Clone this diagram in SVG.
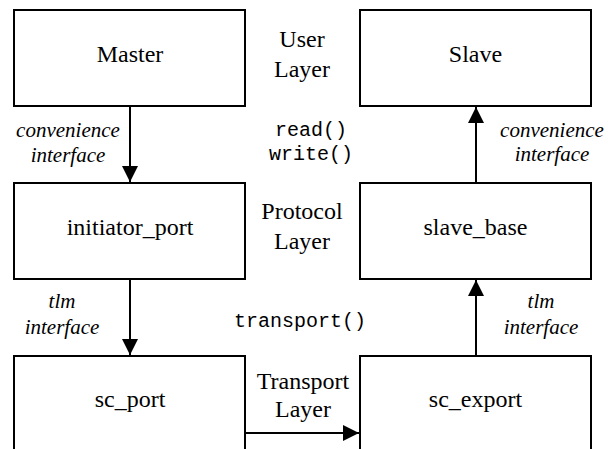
<svg xmlns="http://www.w3.org/2000/svg" width="614" height="449" viewBox="0 0 614 449">
<style>
.box{fill:#fff;stroke:#000;stroke-width:2}
.lbl{font-family:"Liberation Serif","Times New Roman",serif;font-size:24px;fill:#000;text-anchor:middle}
.it{font-family:"Liberation Serif","Times New Roman",serif;font-size:21px;font-style:italic;fill:#000;text-anchor:middle}
.mono{font-family:"Liberation Mono","Courier New",monospace;font-size:20px;fill:#000;text-anchor:middle}
.conn{stroke:#000;stroke-width:2;fill:none}
</style>
<defs>
<marker id="ah" markerWidth="16" markerHeight="16" viewBox="0 0 16 16" refX="16" refY="8" orient="auto" markerUnits="userSpaceOnUse">
<path d="M0,0 L16,8 L0,16 Z" fill="#000"/>
</marker>
</defs>
<g id="master"><rect class="box" x="14" y="10" width="231" height="96"/><text class="lbl" x="130" y="62">Master</text></g>
<g id="slave"><rect class="box" x="360" y="10" width="231" height="96"/><text class="lbl" x="475.5" y="62">Slave</text></g>
<g id="initiator_port"><rect class="box" x="14" y="183" width="231" height="96"/><text class="lbl" x="130" y="235">initiator_port</text></g>
<g id="slave_base"><rect class="box" x="360" y="183" width="231" height="96"/><text class="lbl" x="475.5" y="235">slave_base</text></g>
<g id="sc_port"><rect class="box" x="14" y="356" width="231" height="110"/><text class="lbl" x="130" y="407">sc_port</text></g>
<g id="sc_export"><rect class="box" x="360" y="356" width="231" height="110"/><text class="lbl" x="475.5" y="407">sc_export</text></g>
<g id="layers">
<text class="lbl" x="302" y="47">User</text>
<text class="lbl" x="302" y="77">Layer</text>
<text class="lbl" x="302" y="219">Protocol</text>
<text class="lbl" x="302" y="249">Layer</text>
<text class="lbl" x="303" y="389">Transport</text>
<text class="lbl" x="303" y="417">Layer</text>
<text class="mono" x="311" y="136">read()</text>
<text class="mono" x="311" y="160">write()</text>
<text class="mono" x="300" y="327">transport()</text>
</g>
<g id="connectors">
<line class="conn" x1="130" y1="106" x2="130" y2="182" marker-end="url(#ah)"/>
<line class="conn" x1="130" y1="279" x2="130" y2="355" marker-end="url(#ah)"/>
<line class="conn" x1="476" y1="183" x2="476" y2="107" marker-end="url(#ah)"/>
<line class="conn" x1="476" y1="356" x2="476" y2="280" marker-end="url(#ah)"/>
<line class="conn" x1="245" y1="433" x2="359" y2="433" marker-end="url(#ah)"/>
<text class="it" x="68" y="137">convenience</text>
<text class="it" x="68" y="162">interface</text>
<text class="it" x="552" y="137">convenience</text>
<text class="it" x="552" y="161">interface</text>
<text class="it" x="62" y="308">tlm</text>
<text class="it" x="62" y="334">interface</text>
<text class="it" x="541" y="308">tlm</text>
<text class="it" x="541" y="334">interface</text>
</g>
</svg>
